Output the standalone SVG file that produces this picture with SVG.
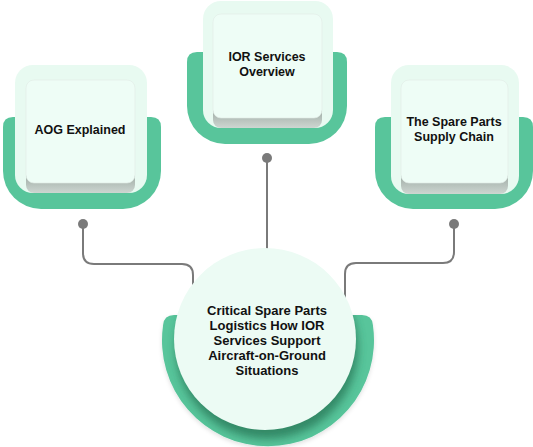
<svg xmlns="http://www.w3.org/2000/svg" width="533" height="447" viewBox="0 0 533 447">
<style>
.green{fill:#58c59b}
.card{fill:#e8faf1}
.panel{fill:#eefdf6;stroke:#e0ebe6;stroke-width:0.6}
.band{fill:url(#bandGrad)}
.lbl{font-family:"Liberation Sans",Arial,sans-serif;font-weight:bold;font-size:12.5px;fill:#111;text-anchor:middle}
.clbl{font-size:13px}
.wire{fill:none;stroke:#7a7a7a;stroke-width:2}
.dot{fill:#7a7a7a}
</style>
<defs>
<linearGradient id="bandGrad" x1="0" y1="0" x2="0" y2="1">
<stop offset="0" stop-color="#8e9d95"/>
<stop offset="1" stop-color="#cdd6d1"/>
</linearGradient>
<filter id="blur" x="-20%" y="-20%" width="140%" height="140%"><feGaussianBlur stdDeviation="4"/></filter>
<filter id="soft" x="-10%" y="-10%" width="120%" height="130%"><feDropShadow dx="0" dy="2" stdDeviation="2" flood-color="#000" flood-opacity="0.12"/></filter>
<clipPath id="greenClip"><path d="M174,315 H362 Q372,315 372.9,325 A106,106 0 1 1 163.1,325 Q164,315 174,315 Z"/></clipPath>
</defs>

<g id="connectors">
<path class="wire" d="M83,224 V253 Q83,264 94,264 H182 Q193,264 193,275 V300"/>
<path class="wire" d="M267,158 V255"/>
<path class="wire" d="M454,224 V252 Q454,263 443,263 H356 Q345,263 345,274 V305"/>
<circle class="dot" cx="83" cy="224" r="5"/>
<circle class="dot" cx="267" cy="158" r="5"/>
<circle class="dot" cx="454" cy="224" r="5"/>
</g>

<g id="node-aog">
<path class="green" d="M13,117 H151 Q161,117 161,127 V171 A38,38 0 0 1 123,209 H41 A38,38 0 0 1 3,171 V127 Q3,117 13,117 Z"/>
<rect class="card" x="15" y="65" width="132" height="128" rx="18"/>
<rect class="band" x="26" y="168" width="109" height="25" rx="8"/>
<rect class="panel" x="26" y="80" width="109" height="103" rx="8"/>
<text class="lbl" x="80" y="134">AOG Explained</text>
</g>

<g id="node-ior">
<path class="green" d="M197,52 H337 Q347,52 347,62 V106 A38,38 0 0 1 309,144 H225 A38,38 0 0 1 187,106 V62 Q187,52 197,52 Z"/>
<rect class="card" x="203" y="1" width="130" height="127" rx="18"/>
<rect class="band" x="213" y="103" width="109" height="25" rx="8"/>
<rect class="panel" x="213" y="14" width="109" height="104" rx="8"/>
<text class="lbl" x="267" y="61">IOR Services</text>
<text class="lbl" x="267" y="76">Overview</text>
</g>

<g id="node-supply">
<path class="green" d="M385,117 H523 Q533,117 533,127 V171 A38,38 0 0 1 495,209 H413 A38,38 0 0 1 375,171 V127 Q375,117 385,117 Z"/>
<rect class="card" x="391" y="65" width="128" height="129" rx="18"/>
<rect class="band" x="401" y="168" width="107" height="26" rx="8"/>
<rect class="panel" x="401" y="80" width="107" height="103" rx="8"/>
<text class="lbl" x="454" y="126">The Spare Parts</text>
<text class="lbl" x="454" y="141">Supply Chain</text>
</g>

<g id="node-center">
<path class="green" filter="url(#soft)" d="M174,315 H362 Q372,315 372.9,325 A106,106 0 1 1 163.1,325 Q164,315 174,315 Z"/>
<g clip-path="url(#greenClip)">
<circle cx="267" cy="348" r="91" fill="#2a7a5a" opacity="0.8" filter="url(#blur)"/>
</g>
<circle cx="265" cy="339" r="91" fill="#ecfbf4"/>
<text class="lbl clbl" x="267" y="315">Critical Spare Parts</text>
<text class="lbl clbl" x="267" y="330">Logistics How IOR</text>
<text class="lbl clbl" x="267" y="345">Services Support</text>
<text class="lbl clbl" x="267" y="360">Aircraft-on-Ground</text>
<text class="lbl clbl" x="267" y="375">Situations</text>
</g>
</svg>
